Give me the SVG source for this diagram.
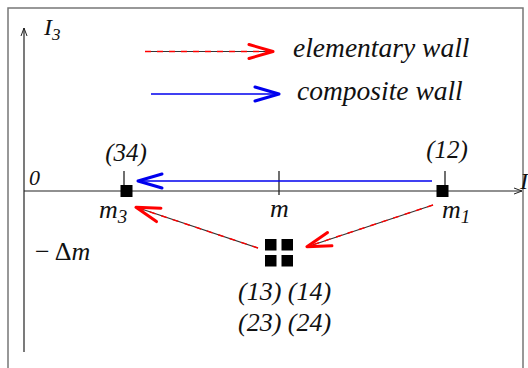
<svg xmlns="http://www.w3.org/2000/svg" width="528" height="368" viewBox="0 0 528 368">
<style>
text{font-family:'Liberation Serif','DejaVu Serif',serif;font-style:italic;fill:#111}
.up{font-style:normal}
.frame{fill:none;stroke:#777;stroke-width:1.5}
.axis{fill:none;stroke:#222;stroke-width:1.2}
.tick{stroke:#222;stroke-width:1.3}
.base{stroke:#333;stroke-width:1.2;fill:none}
.dash{stroke:#ff0000;stroke-width:1.4;stroke-dasharray:6 6;fill:none}
.blue{stroke:#0000ee;stroke-width:1.5;fill:none}
.sq{fill:#000}
</style>
<defs>
<marker id="hr" markerUnits="userSpaceOnUse" viewBox="-30 -10 32 20" refX="0" refY="0" markerWidth="32" markerHeight="20" orient="auto">
<path d="M-25,-7 L-1,0 L-25,7" fill="none" stroke="#ff0000" stroke-width="3" stroke-linejoin="round" stroke-linecap="round"/>
</marker>
<marker id="hb" markerUnits="userSpaceOnUse" viewBox="-30 -10 32 20" refX="0" refY="0" markerWidth="32" markerHeight="20" orient="auto">
<path d="M-25,-7 L-1,0 L-25,7" fill="none" stroke="#0000ee" stroke-width="3" stroke-linejoin="round" stroke-linecap="round"/>
</marker>
<marker id="ha" markerUnits="userSpaceOnUse" viewBox="-10 -5 12 10" refX="0" refY="0" markerWidth="12" markerHeight="10" orient="auto">
<path d="M-8,-3 L0,0 L-8,3" fill="none" stroke="#222" stroke-width="1"/>
</marker>
</defs>

<g id="frame">
<path class="frame" d="M8,368 V8 H523 V368"/>
</g>

<g id="axes">
<line class="axis" x1="24" y1="352" x2="24" y2="28" marker-end="url(#ha)"/>
<line class="axis" x1="24" y1="191" x2="522" y2="191" marker-end="url(#ha)"/>
<text x="44" y="35" font-size="24">I<tspan font-size="17" dy="5">3</tspan></text>
<text x="520" y="189" font-size="24">I</text>
<text x="29" y="185" font-size="22">0</text>
<text x="35" y="260" font-size="26"><tspan class="up">− Δ</tspan>m</text>
</g>

<g id="legend">
<line class="base" x1="145" y1="51.5" x2="273" y2="51.5" stroke="#777"/>
<line class="dash" x1="145" y1="51.5" x2="274" y2="51.5" marker-end="url(#hr)"/>
<text x="293" y="57" font-size="27.5">elementary wall</text>
<line class="blue" x1="151" y1="94" x2="280" y2="94" marker-end="url(#hb)"/>
<text x="297" y="99.5" font-size="27.5">composite wall</text>
</g>

<g id="node-m3">
<line class="tick" x1="124" y1="171" x2="124" y2="191"/>
<rect class="sq" x="120.5" y="185" width="12" height="12"/>
<text x="126" y="161" font-size="25" text-anchor="middle">(34)</text>
<text x="99" y="218" font-size="26">m<tspan font-size="19" dy="5">3</tspan></text>
</g>

<g id="node-m">
<line class="tick" x1="279" y1="171" x2="279" y2="195"/>
<text x="270" y="217" font-size="26">m</text>
</g>

<g id="node-m1">
<line class="tick" x1="445" y1="171" x2="445" y2="191"/>
<rect class="sq" x="436.5" y="185" width="12" height="12"/>
<text x="447" y="158" font-size="25" text-anchor="middle">(12)</text>
<text x="442" y="218" font-size="26">m<tspan font-size="19" dy="5">1</tspan></text>
</g>

<g id="node-quad">
<rect class="sq" x="265" y="239" width="11.5" height="11.5"/>
<rect class="sq" x="281.5" y="239" width="11.5" height="11.5"/>
<rect class="sq" x="265" y="255" width="11.5" height="11.5"/>
<rect class="sq" x="281.5" y="255" width="11.5" height="11.5"/>
<text x="238" y="300" font-size="26">(13) (14)</text>
<text x="238" y="331" font-size="26">(23) (24)</text>
</g>

<g id="connectors">
<line class="blue" x1="432" y1="181" x2="137" y2="181" marker-end="url(#hb)"/>
<line class="base" x1="433" y1="205" x2="308" y2="246.5"/>
<line class="dash" x1="433" y1="205" x2="306" y2="247" marker-end="url(#hr)"/>
<line class="base" x1="258" y1="248" x2="137" y2="207.5"/>
<line class="dash" x1="258" y1="248" x2="135" y2="207" marker-end="url(#hr)"/>
</g>
</svg>
